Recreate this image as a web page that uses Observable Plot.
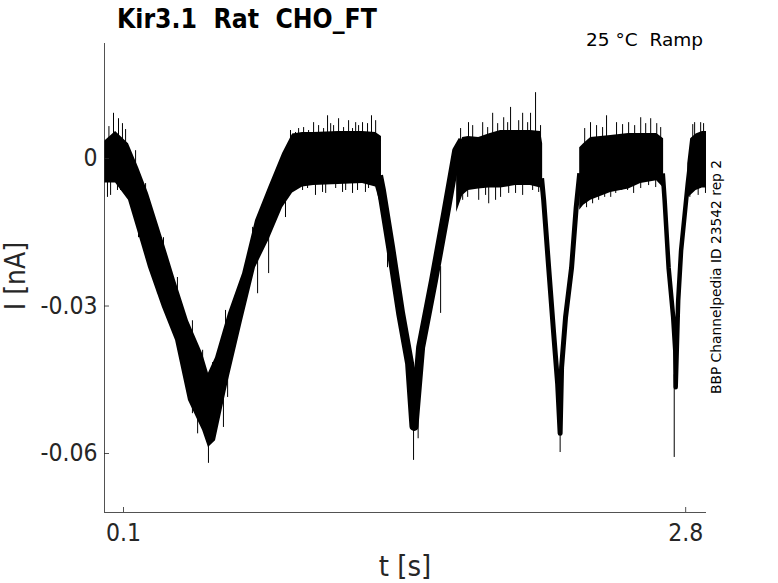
<!DOCTYPE html>
<html><head><meta charset="utf-8">
<script src="https://cdn.jsdelivr.net/npm/d3@7"></script>
<script src="https://cdn.jsdelivr.net/npm/@observablehq/plot@0.6"></script>
<style>body{margin:0;background:#fff} svg{display:block}</style>
</head><body><div id="chart"></div>
<script>
// Noisy band of the recorded current (t in s, I in nA): upper / lower envelope, per segment
const envSeg   = [1,1,1,1,1,1,1,1,1,1,1,1,1,1,1,1,1,1,1,1,1,1,1,
                  2,2,2,2,2,2,2,2,2,2,
                  3,3,3,3,3,3,3,3,
                  4,4,4,4,4];
const envT     = [0.009,0.062,0.124,0.172,0.220,0.287,0.350,0.412,0.480,0.508,0.542,0.604,0.672,0.734,0.797,0.864,0.912,0.960,1.013,1.133,1.248,1.311,1.339,
                  1.700,1.729,1.757,1.806,1.854,1.911,1.983,2.055,2.103,2.113,
                  2.291,2.310,2.344,2.440,2.526,2.584,2.661,2.694,
                  2.810,2.824,2.850,2.880,2.900];
const envUpper = [0.0035,0.0055,0.0030,-0.0018,-0.0071,-0.0161,-0.0248,-0.0330,-0.0397,-0.0437,-0.0405,-0.0315,-0.0234,-0.0126,-0.0059,0.0010,0.0050,0.0053,0.0053,0.0055,0.0055,0.0053,0.0045,
                  0.0016,0.0043,0.0045,0.0043,0.0050,0.0057,0.0057,0.0057,0.0055,0.0030,
                  0.0022,0.0030,0.0043,0.0047,0.0051,0.0051,0.0051,0.0040,
                  -0.0010,0.0040,0.0050,0.0055,0.0055];
const envLower = [-0.0050,-0.0050,-0.0085,-0.0153,-0.0222,-0.0303,-0.0370,-0.0492,-0.0553,-0.0588,-0.0574,-0.0452,-0.0330,-0.0222,-0.0167,-0.0100,-0.0070,-0.0058,-0.0055,-0.0053,-0.0051,-0.0058,-0.0100,
                  -0.0110,-0.0075,-0.0065,-0.0062,-0.0060,-0.0060,-0.0055,-0.0055,-0.0060,-0.0075,
                  -0.0105,-0.0095,-0.0085,-0.0069,-0.0062,-0.0051,-0.0045,-0.0060,
                  -0.0080,-0.0075,-0.0065,-0.0060,-0.0060];

// Centre of the steep ramps of the three narrow dips
const dipId = [2,2,2,2,2,2,2,2,2,2,2,
               3,3,3,3,3,3,3,3,3,3,3,
               4,4,4,4,4,4,4,4,4,4];
const dipT  = [1.325,1.339,1.383,1.431,1.474,1.495,1.527,1.589,1.647,1.700,1.729,
               2.108,2.118,2.142,2.166,2.185,2.197,2.204,2.223,2.252,2.274,2.291,
               2.690,2.699,2.718,2.740,2.750,2.752,2.764,2.778,2.810,2.824];
const dipI  = [-0.0035,-0.0065,-0.0181,-0.0315,-0.0417,-0.0545,-0.0384,-0.0248,-0.0112,0.0016,0.0037,
               -0.0040,-0.0085,-0.0222,-0.0356,-0.0458,-0.0559,-0.0425,-0.0323,-0.0222,-0.0100,-0.0030,
               -0.0030,-0.0085,-0.0222,-0.0323,-0.0391,-0.0465,-0.0289,-0.0187,-0.0051,0.0000];

// Individual noise spikes: time, tip value, base value
const spikeT = [0.030,0.052,0.095,0.023,0.071,0.119,0.076,0.110,0.038,0.086,
  0.158,0.206,0.292,0.359,0.431,0.480,0.528,0.590,0.720,0.816,0.902,
  0.172,0.263,0.340,0.431,0.456,0.508,0.580,0.600,0.638,0.744,0.797,0.878,
  0.941,1.013,1.080,1.109,1.133,1.181,1.215,1.248,1.291,1.311,
  0.926,0.965,0.989,1.037,1.061,1.095,1.157,1.200,1.229,1.272,
  0.960,1.022,1.056,1.167,1.200,1.262,
  0.984,1.071,1.119,1.152,1.224,1.277,
  1.368,1.479,1.493,1.515,1.623,
  1.757,1.825,1.873,1.926,1.959,2.017,2.055,2.079,
  1.719,1.777,1.849,1.897,1.945,1.998,2.041,2.103,
  1.729,1.806,1.854,1.911,1.983,2.065,
  1.753,1.839,1.887,1.950,2.017,2.094,
  2.197,
  2.343,2.420,2.468,2.526,2.584,2.632,2.661,
  2.315,2.372,2.401,2.497,2.555,2.608,2.680,
  2.324,2.382,2.440,2.493,2.550,2.622,
  2.353,2.411,2.464,2.521,2.584,2.656,
  2.745,
  2.843,2.886,2.834,2.872,2.860,2.895,2.820];
const spikeTip = [0.0065,0.0092,0.0071,-0.0079,-0.0065,-0.0081,0.0081,0.0059,-0.0075,-0.0065,
  0.0016,-0.0051,-0.0161,-0.0242,-0.0330,-0.0390,-0.0415,-0.0309,-0.0140,-0.0051,0.0057,
  -0.0161,-0.0275,-0.0350,-0.0519,-0.0560,-0.0620,-0.0547,-0.0486,-0.0356,-0.0275,-0.0234,-0.0120,
  0.0061,0.0073,0.0087,0.0067,0.0081,0.0077,0.0073,0.0073,0.0087,0.0077,
  0.0053,0.0063,0.0057,0.0067,0.0061,0.0071,0.0063,0.0061,0.0067,0.0071,
  -0.0065,-0.0075,-0.0069,-0.0065,-0.0071,-0.0069,
  -0.0061,-0.0071,-0.0061,-0.0069,-0.0065,-0.0061,
  -0.0222,-0.0519,-0.0614,-0.0570,-0.0315,
  0.0073,0.0073,0.0092,0.0083,0.0104,0.0092,0.0092,0.0134,
  0.0061,0.0067,0.0063,0.0071,0.0073,0.0077,0.0073,0.0067,
  -0.0085,-0.0085,-0.0092,-0.0079,-0.0071,-0.0065,
  -0.0079,-0.0075,-0.0085,-0.0071,-0.0075,-0.0069,
  -0.0598,
  0.0073,0.0087,0.0073,0.0073,0.0083,0.0081,0.0071,
  0.0061,0.0067,0.0063,0.0069,0.0067,0.0071,0.0063,
  -0.0100,-0.0085,-0.0079,-0.0065,-0.0071,-0.0055,
  -0.0092,-0.0079,-0.0071,-0.0065,-0.0061,-0.0059,
  -0.0608,
  0.0073,0.0071,0.0069,0.0073,-0.0075,-0.0071,-0.0079];
const spikeBase = [0,0,0,0,0,-0.002,0,0,0,0,
  -0.008,-0.014,-0.024,-0.032,-0.042,-0.048,-0.050,-0.040,-0.022,-0.012,-0.002,
  -0.008,-0.018,-0.026,-0.042,-0.046,-0.050,-0.046,-0.040,-0.028,-0.018,-0.012,-0.004,
  0,0,0,0,0,0,0,0,0,0,
  0,0,0,0,0,0,0,0,0,0,
  0,0,0,0,0,0,
  0,0,0,0,0,0,
  -0.014,-0.044,-0.050,-0.046,-0.022,
  0,0,0,0,0,0,0,0,
  0,0,0,0,0,0,0,0,
  0,0,0,0,0,0,
  0,0,0,0,0,0,
  -0.054,
  0,0,0,0,0,0,0,
  0,0,0,0,0,0,0,
  0,0,0,0,0,0,
  0,0,0,0,0,0,
  -0.044,
  0,0,0,0,0,0,0];

const xTicks = [0.1, 2.8];
const xTickLabels = ["0.1", "2.8"];
const yTicks = [0, -0.03, -0.06];
const yTickLabels = ["0", "-0.03", "-0.06"];
const xDomain = [0.0087, 2.9];
const yDomain = [-0.072, 0.0234];

const titleText = "Kir3.1  Rat  CHO_FT";
const subText = "25 °C  Ramp";
const sideText = "BBP Channelpedia ID 23542 rep 2";
const xLabel = "t [s]";
const yLabel = "I [nA]";

const env = envT.map((t, i) => ({t, seg: envSeg[i], hi: envUpper[i], lo: envLower[i]}));
const dips = dipT.map((t, i) => ({t, dip: dipId[i], v: dipI[i]}));
const spikes = spikeT.map((t, i) => ({t, tip: spikeTip[i], base: spikeBase[i]}));

const font = "'DejaVu Sans Condensed', 'DejaVu Sans', sans-serif";
const ink = "#262626";

const chart = Plot.plot({
  width: 778, height: 583,
  marginLeft: 104, marginRight: 72, marginTop: 43, marginBottom: 71,
  x: {domain: xDomain},
  y: {domain: yDomain},
  style: {fontFamily: font, color: ink, background: "white", overflow: "visible"},
  marks: [
    Plot.areaY(env, {x: "t", y1: "lo", y2: "hi", z: "seg", fill: "black", curve: "linear"}),
    Plot.line(dips.filter(d => d.dip === 2), {x: "t", y: "v", stroke: "black", strokeWidth: 9, strokeLinejoin: "round", strokeLinecap: "butt"}),
    Plot.line(dips.filter(d => d.dip === 3), {x: "t", y: "v", stroke: "black", strokeWidth: 5, strokeLinejoin: "round", strokeLinecap: "butt"}),
    Plot.line(dips.filter(d => d.dip === 4), {x: "t", y: "v", stroke: "black", strokeWidth: 4.5, strokeLinejoin: "round", strokeLinecap: "butt"}),
    Plot.ruleX(spikes, {x: "t", y1: "tip", y2: "base", stroke: "black", strokeWidth: 1}),
    Plot.ruleX([xDomain[0]], {stroke: ink, strokeWidth: 0.8}),
    Plot.ruleY([yDomain[0]], {stroke: ink, strokeWidth: 0.8}),
    Plot.axisX(xTicks, {tickSize: -5, text: null, label: null, stroke: ink, strokeWidth: 0.8}),
    Plot.axisX(xTicks, {tickSize: 0, tickPadding: 11, fontSize: 24.5, label: null,
      tickFormat: (d, i) => xTickLabels[i]}),
    Plot.axisY(yTicks, {tickSize: -5, text: null, label: null, stroke: ink, strokeWidth: 0.8}),
    Plot.axisY(yTicks, {tickSize: 0, tickPadding: 7, fontSize: 24.5, label: null,
      tickFormat: (d, i) => yTickLabels[i]})
  ]
});

const svg = d3.select(chart);
svg.append("text").attr("x", 117).attr("y", 28).attr("font-size", 26.3).attr("font-weight", "bold")
  .attr("text-anchor", "start").attr("fill", "black").attr("font-family", font)
  .style("white-space", "pre").text(titleText);
svg.append("text").attr("x", 703).attr("y", 46).attr("font-size", 18.5).attr("text-anchor", "end")
  .attr("fill", "black").attr("font-family", "'DejaVu Sans', sans-serif").style("white-space", "pre").text(subText);
svg.append("text").attr("transform", "translate(721,277) rotate(-90)").attr("font-size", 13.8)
  .attr("text-anchor", "middle").attr("fill", "black").attr("font-family", "'DejaVu Sans', sans-serif").text(sideText);
svg.append("text").attr("x", 405).attr("y", 576).attr("font-size", 29).attr("text-anchor", "middle")
  .attr("fill", ink).attr("font-family", font).text(xLabel);
svg.append("text").attr("transform", "translate(25,276) rotate(-90)").attr("font-size", 28)
  .attr("text-anchor", "middle").attr("fill", ink).attr("font-family", font).text(yLabel);

document.getElementById("chart").append(chart);
</script>
</body></html>
